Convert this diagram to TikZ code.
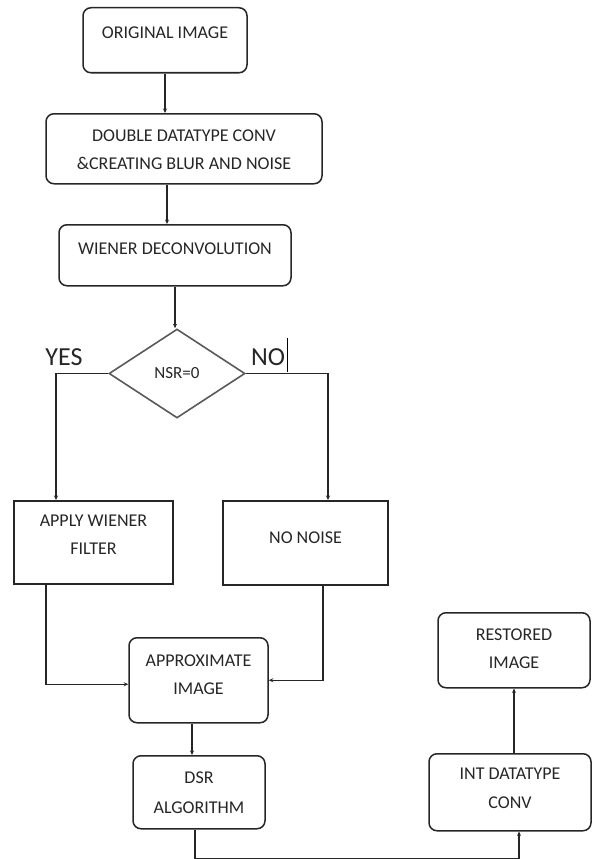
\documentclass[tikz,border=0pt]{standalone}
\usepackage{fontspec}
\setmainfont{Carlito}
\usetikzlibrary{shapes.geometric,arrows.meta}
\tikzset{
  boxbase/.style={draw=black!85, line width=1.5pt, inner xsep=0pt, inner ysep=0pt,
    minimum height=0pt, anchor=north, align=center,
    font=\fontsize{18}{28}\selectfont, text=black!85},
  rbox/.style={boxbase, rounded corners=8pt},
  sbox/.style={boxbase},
  conn/.style={draw=black!85, line width=1.2pt, -{Stealth[length=4.5pt,width=4pt]}},
  yesno/.style={font=\fontsize{26}{30}\selectfont, text=black!85, inner sep=0pt},
  decision/.style={diamond, draw=black!65, line width=1.6pt, inner sep=0pt,
    minimum width=136pt, minimum height=89pt, font=\fontsize{17}{20}\selectfont, text=black!85}
}
\begin{document}
\begin{tikzpicture}[x=1pt,y=-1pt]
\useasboundingbox (0,0) rectangle (592,859);

\node[rbox, minimum width=164pt, text height=30.5pt, text depth=34.5pt] (b1) at (165,7) {ORIGINAL IMAGE};
\node[rbox, minimum width=276pt, text height=55.5pt, text depth=14.5pt] (b2) at (184,113) {DOUBLE DATATYPE CONV\\\&CREATING BLUR AND NOISE};
\node[rbox, minimum width=232pt, text height=29.5pt, text depth=31.5pt] (b3) at (175,224) {WIENER DECONVOLUTION};
\node[decision] (dia) at (177,373.5) {NSR=0};
\node[sbox, minimum width=159pt, text height=53.5pt, text depth=29.5pt] (apply) at (93.5,500) {APPLY WIENER\\FILTER};
\node[sbox, minimum width=165pt, text height=42.5pt, text depth=41.5pt] (nonoise) at (305.5,500) {NO NOISE};
\node[rbox, minimum width=139pt, text height=56.5pt, text depth=28.5pt] (approx) at (198.5,637) {APPROXIMATE\\IMAGE};
\node[rbox, minimum width=132pt, text height=57.5pt, text depth=15.5pt, font=\fontsize{18}{30}\selectfont] (dsr) at (199,755) {DSR\\ALGORITHM};
\node[rbox, minimum width=152pt, text height=55.5pt, text depth=19.5pt] (rest) at (514,612) {RESTORED\\IMAGE};
\node[rbox, minimum width=162pt, text height=54.5pt, text depth=22.5pt, font=\fontsize{18}{29}\selectfont] (int) at (510,753) {INT DATATYPE\\CONV};

\node[yesno] (yes) at (64,357) {YES};
\node[yesno] (no) at (268,357) {NO};
\coordinate (cur1) at (287,338);
\coordinate (cur2) at (287,372);
\draw[black, line width=0.8pt] (cur1) -- (cur2);

\draw[conn] (b1.south) -- (b1.south |- b2.north);
\draw[conn] ([xshift=-17pt]b2.south) -- ([xshift=-17pt]b2.south |- b3.north);
\draw[conn] (b3.south) -- (b3.south |- dia.north);
\draw[conn] (dia.west) -| ([xshift=-37.5pt]apply.north);
\draw[conn] (dia.east) -| ([xshift=22.5pt]nonoise.north);
\draw[conn] ([xshift=-47.5pt]apply.south) |- ([yshift=-4pt]approx.west);
\draw[conn] ([xshift=17.5pt]nonoise.south) |- (approx.east);
\draw[conn] ([xshift=-6.5pt]approx.south) -- ([xshift=-6.5pt]approx.south |- dsr.north);
\draw[conn] ([xshift=-4pt]dsr.south) -- ++(0,29) -| ([xshift=9pt]int.south);
\draw[conn] ([xshift=4pt]int.north) -- ([xshift=4pt]int.north |- rest.south);
\end{tikzpicture}
\end{document}
